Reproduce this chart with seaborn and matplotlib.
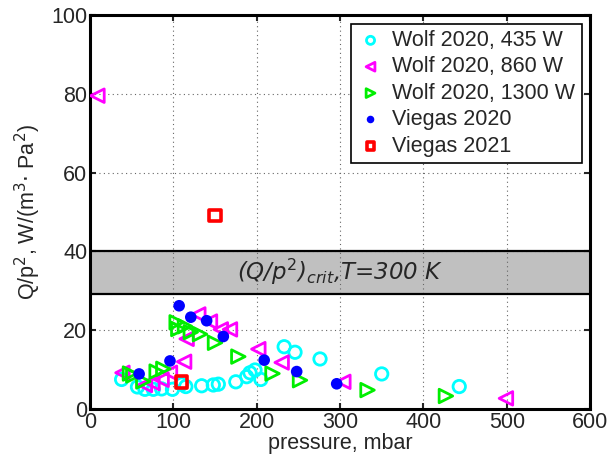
import numpy as np
import pandas as pd
import matplotlib
matplotlib.use("Agg")
import matplotlib.pyplot as plt
import seaborn as sns

# ---- data ----
wolf435_p = [38, 57, 66, 76, 86, 99, 110, 115, 134, 148, 154, 175, 188, 192, 198, 205, 233, 246, 276, 350, 443]
wolf435_q = [7.5, 5.6, 5.0, 5.0, 5.1, 5.0, 6.3, 5.7, 5.9, 6.1, 6.3, 6.9, 8.2, 9.2, 9.9, 7.5, 15.8, 14.4, 12.7, 8.9, 5.7]

wolf860_p = [9, 39, 66, 75, 86, 96, 113, 116, 130, 144, 157, 168, 202, 230, 304, 499]
wolf860_q = [79.5, 9.2, 6.1, 6.6, 7.4, 9.2, 12.0, 17.8, 24.0, 22.2, 20.2, 20.2, 15.2, 11.8, 6.9, 2.7]

wolf1300_p = [48, 52, 64, 80, 88, 104, 106, 114, 121, 132, 150, 178, 219, 252, 333, 427]
wolf1300_q = [9.0, 8.5, 7.0, 9.5, 10.2, 22.0, 20.3, 21.0, 19.5, 19.0, 16.8, 13.3, 9.0, 7.3, 4.8, 3.3]

viegas2020_p = [59, 96, 107, 121, 140, 160, 209, 248, 296]
viegas2020_q = [8.9, 12.2, 26.2, 23.3, 22.4, 18.4, 12.4, 9.5, 6.4]

viegas2021_p = [110, 150]
viegas2021_q = [6.9, 49.1]

crit_low, crit_high = 29.3, 40.0

x_ticks = [0, 100, 200, 300, 400, 500, 600]
y_ticks = [0, 20, 40, 60, 80, 100]

# ---- styling ----
sns.set_style("ticks")
plt.rcParams["font.family"] = ["Liberation Sans", "DejaVu Sans"]
plt.rcParams["mathtext.fontset"] = "dejavusans"

fig = plt.figure(figsize=(6.16, 4.62), dpi=100)
ax = fig.add_axes([0.146, 0.1147, 0.812, 0.853])

# critical band
ax.axhspan(crit_low, crit_high, facecolor="#c0c0c0", edgecolor="none", zorder=0.5)
ax.axhline(crit_low, color="black", lw=1.6, zorder=0.6)
ax.axhline(crit_high, color="black", lw=1.6, zorder=0.6)

series = [
    (wolf435_p, wolf435_q, "Wolf 2020, 435 W", "o", "#00ffff", False, 80),
    (wolf860_p, wolf860_q, "Wolf 2020, 860 W", "<", "#ff00ff", False, 95),
    (wolf1300_p, wolf1300_q, "Wolf 2020, 1300 W", ">", "#00ee00", False, 95),
    (viegas2020_p, viegas2020_q, "Viegas 2020", "o", "#0000ff", True, 70),
    (viegas2021_p, viegas2021_q, "Viegas 2021", "s", "#ff0000", False, 70),
]

for p, q, lab, m, c, filled, s in series:
    df = pd.DataFrame({"p": p, "q": q})
    if filled:
        sns.scatterplot(data=df, x="p", y="q", ax=ax, marker=m, s=s,
                        color=c, edgecolor="none", label=lab, zorder=3)
    else:
        sns.scatterplot(data=df, x="p", y="q", ax=ax, marker=m, s=s,
                        facecolor="none", edgecolor=c,
                        linewidth=2.6 if m == "s" else 2.0, label=lab, zorder=3)

ax.text(300, 34.7, r"(Q/p$^2$)$_{crit}$,T=300 K", ha="center", va="center",
        fontsize=16.5, style="italic", family="DejaVu Sans", zorder=4)

ax.set_xlim(0, 600)
ax.set_ylim(0, 100)
ax.set_xticks(x_ticks)
ax.set_yticks(y_ticks)
ax.tick_params(direction="in", length=4, width=1.5, labelsize=15.5,
               top=True, right=True, pad=2)
ax.grid(True, linestyle=(0, (1, 3)), color="#666666", lw=0.8)

for sp in ax.spines.values():
    sp.set_linewidth(2.2)
    sp.set_color("black")
    sp.set_visible(True)

ax.set_xlabel("pressure, mbar", fontsize=15.5, labelpad=0)
ax.set_ylabel(r"Q/p$^2$, W/(m$^3$$\cdot$ Pa$^2$)", fontsize=15.5, labelpad=6)

leg = ax.legend(loc="upper right", fontsize=15.5, frameon=True, fancybox=False,
                edgecolor="black", framealpha=1, markerscale=0.65,
                handletextpad=0.4, borderpad=0.3, labelspacing=0.25,
                handlelength=1.2, borderaxespad=0.4)
leg.get_frame().set_linewidth(1.2)

fig.savefig("out.png", dpi=100)
